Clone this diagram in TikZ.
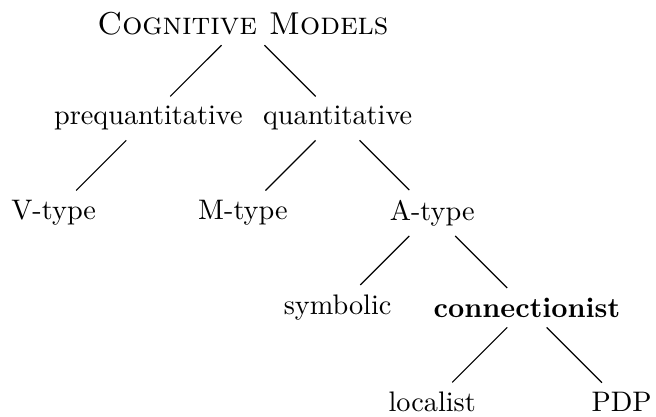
\documentclass[tikz,border=0pt]{standalone}
\usetikzlibrary{positioning}

\begin{document}
\begin{tikzpicture}[
    x=33.5pt,
    y=33.5pt,
    category/.style={
      inner sep=3.33pt
    },
    branch/.style={
      thin
    }
  ]
    \useasboundingbox (-86pt,8.4pt) rectangle (146.2pt,-138.9pt);

    \node[category,font=\fontsize{11.2}{13}\selectfont] (root) at (0,0)
      {\textsc{Cognitive Models}};

    \foreach \x/\y/\n/\l in {-1/-1/pre/prequantitative,1/-1/quant/quantitative,
        -2/-2/vtype/V-type,0/-2/mtype/M-type,2/-2/atype/A-type,
        1/-3/sym/symbolic,3/-3/conn/\textbf{connectionist},
        2/-4/loc/localist,4/-4/pdp/PDP}
      \node[category] (\n) at (\x,\y) {\l};

    \foreach \a/\b in {root/pre,root/quant,pre/vtype,quant/mtype,quant/atype,
        atype/sym,atype/conn,conn/loc,conn/pdp}
      \draw[branch] (\a) -- (\b);
  \end{tikzpicture}
\end{document}
